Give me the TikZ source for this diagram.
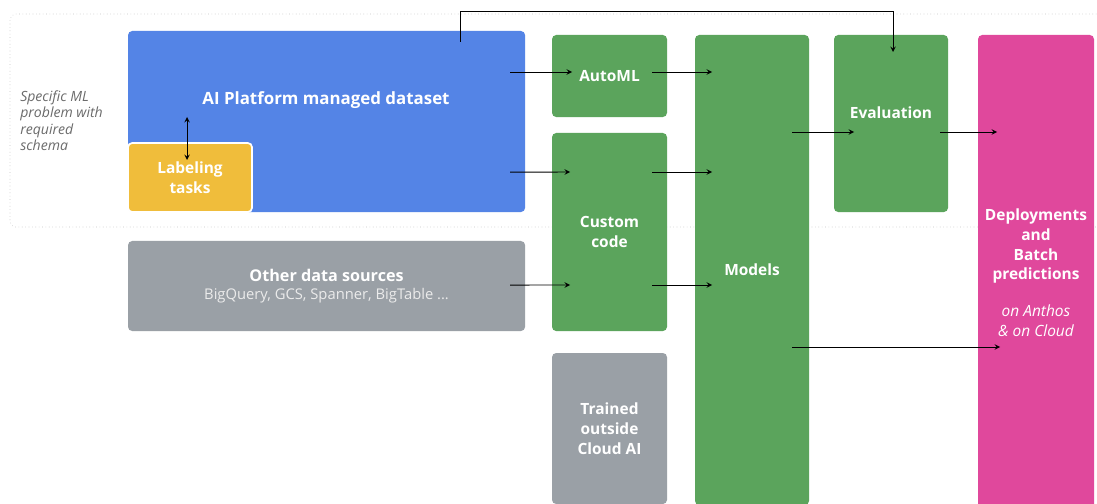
\documentclass[tikz,border=0pt]{standalone}
\usepackage{fontspec}
\setmainfont{Open Sans}
\usetikzlibrary{arrows,calc}
\definecolor{dsblue}{HTML}{5484E6}
\definecolor{stepgreen}{HTML}{5BA45C}
\definecolor{labyellow}{HTML}{F0BD3B}
\definecolor{srcgray}{HTML}{9AA0A6}
\definecolor{deppink}{HTML}{E0489C}
\definecolor{notegray}{HTML}{6B6B6B}

\begin{document}
\begin{tikzpicture}[>=stealth, x=0.025cm, y=-0.025cm]
    \tikzset{
        box/.style={rectangle, rounded corners=3pt, anchor=north west, outer sep=0pt, inner sep=2pt, align=center, text=white, font=\fontsize{11}{14}\selectfont\bfseries},
        greenbox/.style={box, fill=stepgreen},
        graybox/.style={box, fill=srcgray},
        boxtext/.style={text=white, align=center, font=\fontsize{11}{14}\selectfont\bfseries},
        note/.style={text=notegray, align=left, anchor=north west, inner sep=0pt, font=\fontsize{10}{11.8}\selectfont\itshape},
        line/.style={draw, ->, >=stealth, line width=0.7pt}
    }
    \useasboundingbox [fill=white] (0,0) rectangle (1097,504);

    % dotted band of the managed dataset
    \draw [dotted, gray!45, rounded corners=4pt] (1120,14) -- (10,14) -- (10,227) -- (1120,227);
    \node [note] (schema) at (20,90) {Specific ML\\problem with\\required\\schema};

    \node [box, fill=dsblue, minimum width=9.925cm, minimum height=4.525cm] (ds) at (128,31) {};
    \node [boxtext, font=\fontsize{12}{14}\selectfont\bfseries] (dstext) at (326,100) {AI Platform managed dataset};
    \node [box, fill=labyellow, draw=white, line width=1.2pt, minimum width=3.1cm, minimum height=1.725cm] (lab) at (128,143) {Labeling\\tasks};
    \node [graybox, minimum width=9.925cm, minimum height=2.25cm] (other) at (128,241)
        {\fontsize{11.5}{14}\selectfont Other data sources\\[-1pt]{\fontsize{10.5}{12}\selectfont\mdseries\color{white!92!black}BigQuery, GCS, Spanner, BigTable ...}};

    \node [greenbox, minimum width=2.875cm, minimum height=2.05cm] (automl) at (552,35) {AutoML};
    \node [greenbox, minimum width=2.875cm, minimum height=4.95cm] (custom) at (552,133) {Custom\\code};
    \node [graybox, minimum width=2.875cm, minimum height=3.775cm] (trained) at (552,353) {Trained\\outside\\Cloud AI};
    \node [greenbox, minimum width=2.85cm, minimum height=11.75cm] (models) at (695,35) {Models};
    \node [greenbox, minimum width=2.85cm, minimum height=4.425cm,
           label={[boxtext, yshift=0.275cm]center:Evaluation}] (eval) at (834,35) {};
    \node [box, fill=deppink, minimum width=2.9cm, minimum height=11.875cm] (deploy) at (978,35)
        {Deployments\\and\\Batch\\predictions\\[12pt]{\mdseries\itshape on Anthos}\\{\mdseries\itshape \& on Cloud}};

    \draw [<->, line width=0.7pt] ($(lab.north)+(-3,-26)$) -- ($(lab.north)+(-3,17)$);

    \path [line] ($(ds.north east)+(-15,41)$) -- ($(automl.north west)+(20,37)$);
    \path [line] ($(automl.north east)+(-15,37)$) -- ($(models.north west)+(17,37)$);
    \path [line] ($(ds.south east)+(-15,-40)$) -- ($(custom.north west)+(18,39)$);
    \path [line] ($(custom.north east)+(-15,39)$) -- ($(models.north west)+(17,137)$);
    \path [line] ($(other.east)+(-15,-1)$) -- ($(custom.north west)+(18,152)$);
    \path [line] ($(custom.north east)+(-15,152)$) -- ($(models.north west)+(17,250)$);
    \path [line] ($(models.north east)+(-17,97)$) -- ($(eval.north west)+(20,97)$);
    \path [line] ($(eval.north east)+(-8,97)$) -- ($(deploy.north west)+(19,97)$);
    \path [line] ($(models.north east)+(-17,312)$) -- ($(deploy.north west)+(22,312)$);
    \draw [line] ($(ds.north)+(134,11)$) -- ++(0,-31) -| ($(eval.north)+(2,17)$);
\end{tikzpicture}
\end{document}
